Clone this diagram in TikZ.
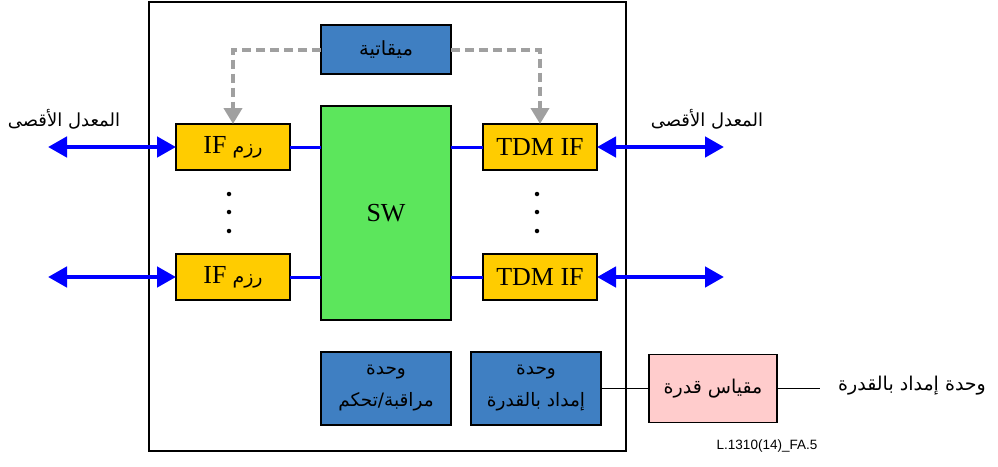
\documentclass[tikz,border=0pt]{standalone}
\usepackage{fontspec}
\setmainfont{Liberation Serif}
\newfontfamily\arabicfont[Script=Arabic]{DejaVu Sans}
\newfontfamily\labelfont{Liberation Sans}
\TeXXeTstate=1
\usetikzlibrary{arrows.meta}
\definecolor{ifyellow}{HTML}{FFCC00}
\definecolor{swgreen}{HTML}{5CE65C}
\definecolor{unitblue}{HTML}{3F7FC2}
\definecolor{meterpink}{HTML}{FFCCCC}
\definecolor{dashgrey}{HTML}{A0A0A0}
\definecolor{linkblue}{HTML}{0000FF}
\newcommand{\ar}[1]{{\arabicfont\beginR #1\endR}}
\begin{document}
\begin{tikzpicture}[x=1pt,y=-1pt,
  box/.style={draw=black, line width=1.4pt, inner sep=0pt, outer sep=0pt, anchor=north west, align=center},
  ifbox/.style={box, fill=ifyellow, minimum width=114pt, minimum height=46pt, font=\fontsize{26}{30}\selectfont},
  unitbox/.style={box, fill=unitblue, minimum width=130pt, minimum height=73pt, font=\arabicfont\fontsize{18.5}{32}\selectfont},
  biarrow/.style={draw=linkblue, line width=4.5pt, {Triangle[length=19pt,width=20pt]}-{Triangle[length=19pt,width=20pt]}},
  link/.style={draw=linkblue, line width=3pt},
  clockarrow/.style={draw=dashgrey, line width=4pt, dash pattern=on 9pt off 5pt, -{Triangle[length=16pt,width=18pt]}},
  thin/.style={draw=black, line width=1.5pt},
  arlabel/.style={font=\arabicfont\fontsize{18}{22}\selectfont, inner sep=0pt},
  dot/.style={fill=black, circle, inner sep=0pt, minimum size=4.5pt}
]
\useasboundingbox (0,0) rectangle (998,466);
% outer frame
\node[draw=black, line width=1.5pt, inner sep=0pt, anchor=north west, minimum width=477pt, minimum height=449pt] (frame) at (148,1) {};

% clock
\node[box, fill=unitblue, minimum width=130pt, minimum height=49pt, font=\arabicfont\fontsize{19.5}{22}\selectfont] (clock) at (321,25) {\ar{ميقاتية}};

% switch
\node[box, fill=swgreen, minimum width=130pt, minimum height=214pt, font=\fontsize{26}{30}\selectfont] (sw) at (321,106) {SW};

% interfaces
\node[ifbox] (pif1) at (176,124) {{\arabicfont\fontsize{19}{22}\selectfont\beginR رزم {\rmfamily\fontsize{26}{30}\selectfont IF}\endR}};
\node[ifbox] (pif2) at (176,254) {{\arabicfont\fontsize{19}{22}\selectfont\beginR رزم {\rmfamily\fontsize{26}{30}\selectfont IF}\endR}};
\node[ifbox] (tif1) at (483,124) {TDM IF};
\node[ifbox] (tif2) at (483,254) {TDM IF};

% links to switch
\draw[link] (pif1.east) -- (pif1.east -| sw.west);
\draw[link] (pif2.east) -- (pif2.east -| sw.west);
\draw[link] (tif1.west) -- (tif1.west -| sw.east);
\draw[link] (tif2.west) -- (tif2.west -| sw.east);

% external bidirectional arrows
\coordinate (l1) at (pif1.west -| 48,0);
\coordinate (l2) at (pif2.west -| 48,0);
\coordinate (r1) at (tif1.east -| 724,0);
\coordinate (r2) at (tif2.east -| 724,0);
\draw[biarrow] (l1) -- (pif1.west);
\draw[biarrow] (l2) -- (pif2.west);
\draw[biarrow] (tif1.east) -- (r1);
\draw[biarrow] (tif2.east) -- (r2);

% clock distribution
\draw[clockarrow] (clock.west) -| (pif1.north);
\draw[clockarrow] (clock.east) -| (tif1.north);

% dots
\node[dot] (dl1) at (229,194) {};
\node[dot] (dl2) at (229,212) {};
\node[dot] (dl3) at (229,231) {};
\node[dot] (dr1) at (537,194) {};
\node[dot] (dr2) at (537,212) {};
\node[dot] (dr3) at (537,231) {};

% labels
\node[arlabel] (ratel) at (64,119) {\ar{المعدل الأقصى}};
\node[arlabel] (rater) at (707,119) {\ar{المعدل الأقصى}};

% bottom units
\node[unitbox] (ctrl) at (321,352) {\ar{وحدة}\\\ar{مراقبة/تحكم}};
\node[unitbox] (psu) at (471,352) {\ar{وحدة}\\\ar{إمداد بالقدرة}};

% power meter
\node[box, fill=meterpink, minimum width=128pt, minimum height=68pt, font=\arabicfont\fontsize{19}{22}\selectfont] (meter) at (649,354.5) {\ar{مقياس قدرة}};
\coordinate (pend) at (meter.east -| 820,0);
\draw[thin] (psu.east) -- (psu.east -| meter.west);
\draw[thin] (meter.east) -- (pend);
\node[arlabel, font=\arabicfont\fontsize{19}{22}\selectfont, anchor=west] (pslabel) at (838,386) {\ar{وحدة إمداد بالقدرة}};

% figure id
\node[font=\labelfont\fontsize{13.5}{15}\selectfont, inner sep=0pt] (figid) at (767,446) {L.1310(14)\_FA.5};
\end{tikzpicture}
\end{document}
